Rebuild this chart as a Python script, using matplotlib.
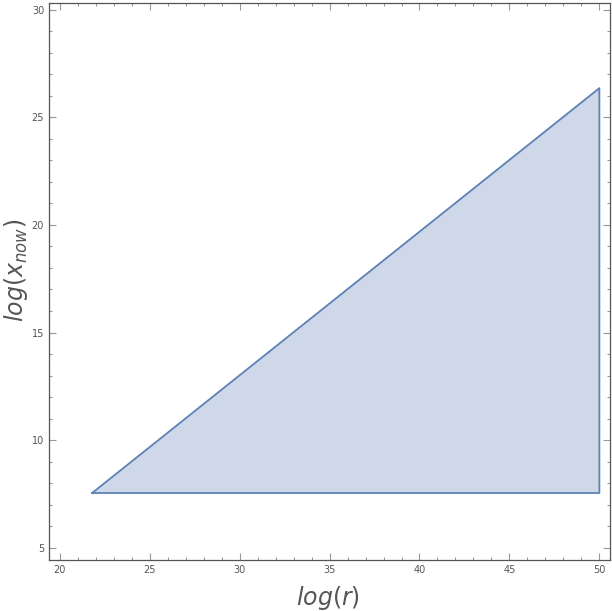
import matplotlib
matplotlib.use("Agg")
import matplotlib.pyplot as plt
from matplotlib.ticker import MultipleLocator

# Region boundary (triangle) vertices
log_r = [21.8, 50.0, 50.0, 21.8]
log_xnow = [7.55, 7.55, 26.35, 7.55]

line_color = (0.368417, 0.506779, 0.709798)
fill_color = (0.368417, 0.506779, 0.709798, 0.3)
gray = "#555555"

fig = plt.figure(figsize=(6.12, 6.11), dpi=100)
ax = fig.add_axes([0.08, 0.0835, 0.917, 0.9115])

ax.fill(log_r, log_xnow, facecolor=fill_color, edgecolor="none")
ax.plot(log_r, log_xnow, color=line_color, lw=1.3)

ax.set_xlim(19.4, 50.6)
ax.set_ylim(4.44, 30.3)

ax.xaxis.set_major_locator(MultipleLocator(5))
ax.xaxis.set_minor_locator(MultipleLocator(1))
ax.yaxis.set_major_locator(MultipleLocator(5))
ax.yaxis.set_minor_locator(MultipleLocator(1))

ax.tick_params(which="both", direction="in", top=True, right=True,
               color="#999999", labelsize=7, labelcolor=gray, width=0.8)
ax.tick_params(which="major", length=5)
ax.tick_params(which="minor", length=2.5)
ax.tick_params(top=True, right=True, labeltop=False, labelright=False)

for s in ax.spines.values():
    s.set_color(gray)
    s.set_linewidth(0.9)

fig.text(328 / 612, 1 - 598 / 611, r"$\mathit{log}(\mathit{r})$", fontsize=17,
         color=gray, ha="center", va="center")
fig.text(16 / 612, 1 - 270 / 611, r"$\mathit{log}(\mathit{x}_{\mathit{now}})$",
         fontsize=17, color=gray, ha="center", va="center", rotation=90)

fig.savefig("out.png", dpi=100)
